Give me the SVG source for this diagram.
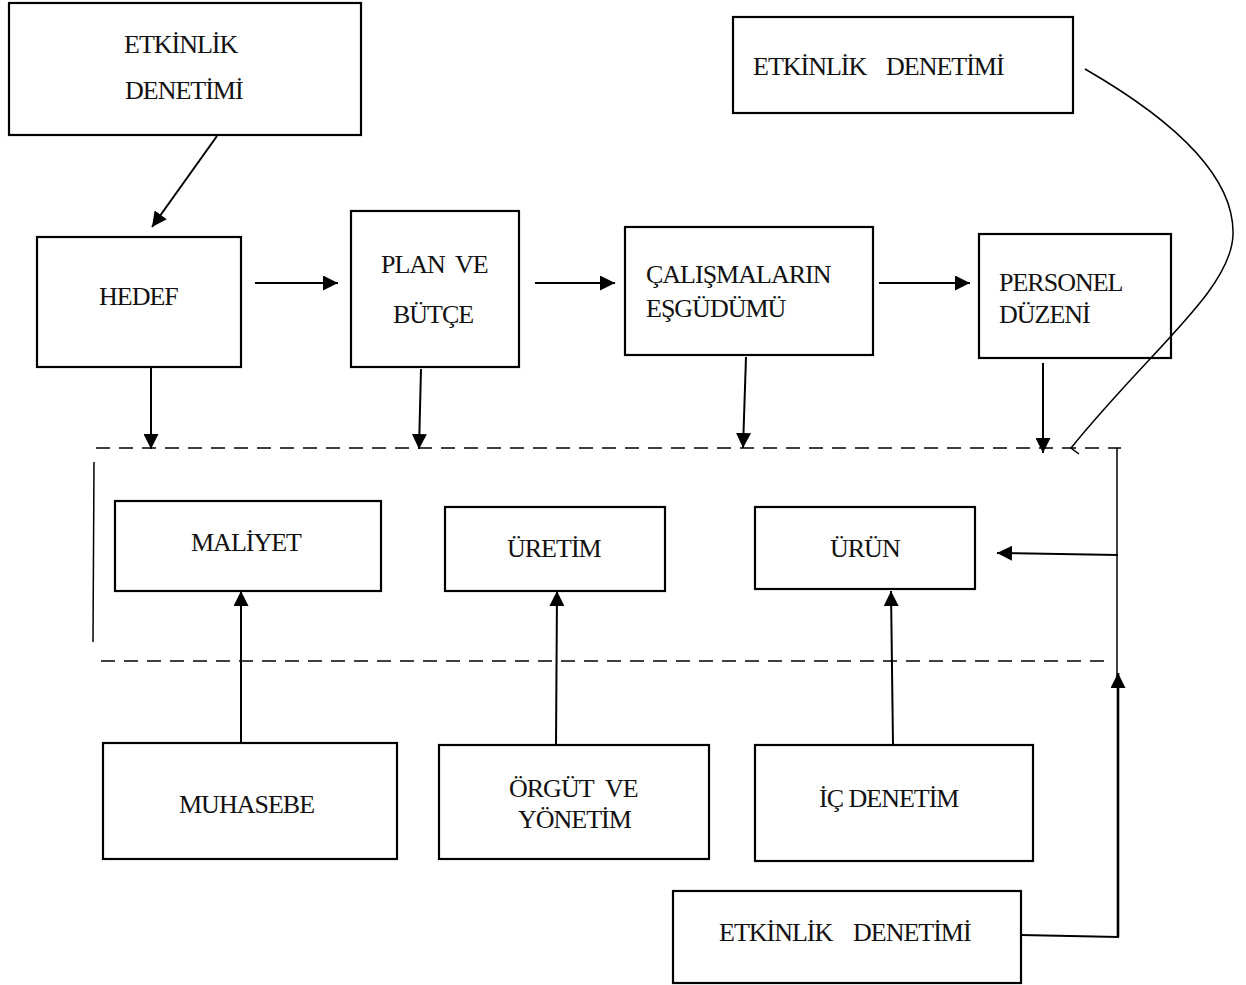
<svg xmlns="http://www.w3.org/2000/svg" width="1246" height="985" viewBox="0 0 1246 985">
<style>
.box{fill:none;stroke:#000;stroke-width:2.2}
.t{font-family:"Liberation Serif","Times New Roman",serif;font-size:26px;fill:#111;letter-spacing:-1px}
.c{fill:none;stroke:#000;stroke-width:2}
.thin{fill:none;stroke:#000;stroke-width:1.5}
.dash{fill:none;stroke:#000;stroke-width:1.5;stroke-dasharray:14 9}
</style>
<defs>
<marker id="ah" viewBox="0 0 15 15" refX="15" refY="7.5" markerWidth="15" markerHeight="15" markerUnits="userSpaceOnUse" orient="auto">
<path d="M0,0 L15,7.5 L0,15 z" fill="#000"/>
</marker>
</defs>
<rect width="1246" height="985" fill="#fff"/>

<g id="connectors">
<line class="c" x1="217" y1="136" x2="152" y2="227" marker-end="url(#ah)"/>
<line class="c" x1="255" y1="283" x2="338" y2="283" marker-end="url(#ah)"/>
<line class="c" x1="535" y1="283" x2="615" y2="283" marker-end="url(#ah)"/>
<line class="c" x1="879" y1="283" x2="970" y2="283" marker-end="url(#ah)"/>
<line class="c" x1="151" y1="368" x2="151" y2="449" marker-end="url(#ah)"/>
<line class="c" x1="421" y1="369" x2="419" y2="449" marker-end="url(#ah)"/>
<line class="c" x1="746" y1="357" x2="743" y2="448" marker-end="url(#ah)"/>
<line class="c" x1="1043" y1="363" x2="1043" y2="453" marker-end="url(#ah)"/>
<path class="thin" d="M1085,69 C1170,118 1235,175 1233,235 C1231,290 1150,350 1071,448 L1079,454"/>
<line class="dash" x1="96" y1="448" x2="1121" y2="448"/>
<line class="dash" x1="101" y1="661" x2="1104" y2="661"/>
<line class="thin" x1="94" y1="462" x2="93" y2="642"/>
<line class="thin" x1="1117" y1="448" x2="1117" y2="680"/>
<polyline class="c" points="1021,935 1118,937 1118,920"/>
<line class="c" style="stroke-width:2.6" x1="1118" y1="937" x2="1118" y2="673" marker-end="url(#ah)"/>
<line class="c" x1="1118" y1="555" x2="997" y2="553" marker-end="url(#ah)"/>
<line class="c" x1="241" y1="742" x2="241" y2="591" marker-end="url(#ah)"/>
<line class="c" x1="556" y1="745" x2="557" y2="591" marker-end="url(#ah)"/>
<line class="c" x1="893" y1="745" x2="891" y2="591" marker-end="url(#ah)"/>
</g>

<g id="etkinlik-top-left">
<rect class="box" x="9" y="3" width="352" height="132"/>
<text class="t" x="124" y="53">ETKİNLİK</text>
<text class="t" x="125" y="99">DENETİMİ</text>
</g>
<g id="etkinlik-top-right">
<rect class="box" x="733" y="17" width="340" height="96"/>
<text class="t" x="753" y="75">ETKİNLİK <tspan x="886">DENETİMİ</tspan></text>
</g>
<g id="hedef">
<rect class="box" x="37" y="237" width="204" height="130"/>
<text class="t" x="99" y="305">HEDEF</text>
</g>
<g id="plan-butce">
<rect class="box" x="351" y="211" width="168" height="156"/>
<text class="t" x="381" y="273">PLAN <tspan x="455">VE</tspan></text>
<text class="t" x="393" y="323">BÜTÇE</text>
</g>
<g id="calismalarin-esgudumu">
<rect class="box" x="625" y="227" width="248" height="128"/>
<text class="t" x="646" y="283">ÇALIŞMALARIN</text>
<text class="t" x="646" y="317">EŞGÜDÜMÜ</text>
</g>
<g id="personel-duzeni">
<rect class="box" x="979" y="234" width="192" height="124"/>
<text class="t" x="999" y="291">PERSONEL</text>
<text class="t" x="999" y="323">DÜZENİ</text>
</g>
<g id="maliyet">
<rect class="box" x="115" y="501" width="266" height="90"/>
<text class="t" x="191" y="551">MALİYET</text>
</g>
<g id="uretim">
<rect class="box" x="445" y="507" width="220" height="84"/>
<text class="t" x="507" y="557">ÜRETİM</text>
</g>
<g id="urun">
<rect class="box" x="755" y="507" width="220" height="82"/>
<text class="t" x="830" y="557">ÜRÜN</text>
</g>
<g id="muhasebe">
<rect class="box" x="103" y="743" width="294" height="116"/>
<text class="t" x="179" y="813">MUHASEBE</text>
</g>
<g id="orgut-yonetim">
<rect class="box" x="439" y="745" width="270" height="114"/>
<text class="t" x="509" y="797">ÖRGÜT <tspan x="605">VE</tspan></text>
<text class="t" x="518" y="828">YÖNETİM</text>
</g>
<g id="ic-denetim">
<rect class="box" x="755" y="745" width="278" height="116"/>
<text class="t" x="819" y="807">İÇ DENETİM</text>
</g>
<g id="etkinlik-bottom">
<rect class="box" x="673" y="891" width="348" height="92"/>
<text class="t" x="719" y="941">ETKİNLİK <tspan x="853">DENETİMİ</tspan></text>
</g>
</svg>
